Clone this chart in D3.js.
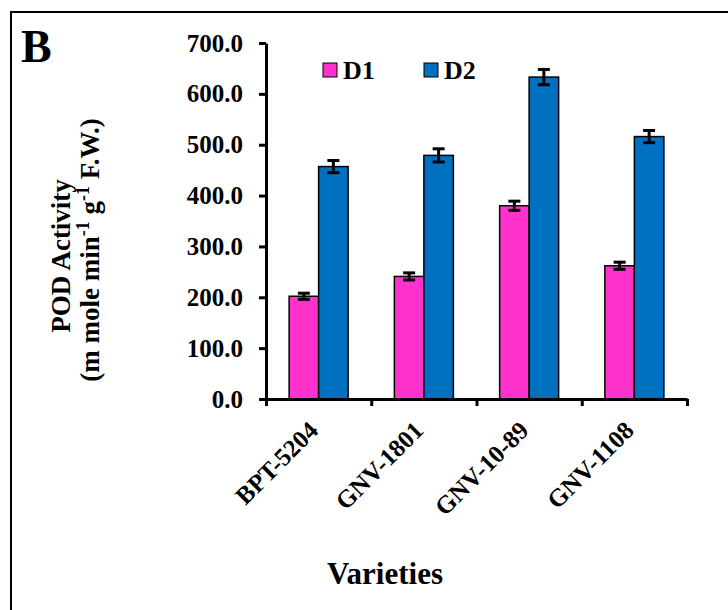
<!DOCTYPE html>
<html>
<head>
<meta charset="utf-8">
<script src="https://cdn.jsdelivr.net/npm/d3@7/dist/d3.min.js"></script>
<style>
  body { margin: 0; background: #fff; }
  svg text { font-family: "Liberation Serif", "Times New Roman", serif; font-weight: bold; fill: #000; }
</style>
</head>
<body>
<div class="graphic"></div>
<script>
var varieties = ["BPT-5204", "GNV-1801", "GNV-10-89", "GNV-1108"];
var seriesNames = ["D1", "D2"];
var d1Values = [202, 241, 380, 262];
var d2Values = [457, 479, 633, 516];
var d1Errors = [6, 7, 9, 7];
var d2Errors = [12, 13, 15, 12];
var yTicks = [0, 100, 200, 300, 400, 500, 600, 700];
var colors = { D1: "#FF33CC", D2: "#0070C0" };

var width = 728, height = 610;
var margin = { left: 266, right: 41, top: 43, bottom: 211 };

var svg = d3.select(".graphic").append("svg")
  .attr("width", width)
  .attr("height", height);

// frame round the panel (cut off on right and bottom)
svg.append("rect")
  .attr("x", 11).attr("y", 12)
  .attr("width", 740).attr("height", 620)
  .attr("fill", "none")
  .attr("stroke", "#000")
  .attr("stroke-width", 2);

svg.append("text")
  .attr("x", 21).attr("y", 62)
  .style("font-size", "46px")
  .text("B");

var x0 = d3.scaleBand()
  .domain(varieties)
  .range([margin.left, width - margin.right]);

var barW = 29.5;
var x1 = d3.scaleBand()
  .domain(seriesNames)
  .range([x0.bandwidth() / 2 - barW, x0.bandwidth() / 2 + barW]);

var y = d3.scaleLinear()
  .domain([0, 700])
  .range([height - margin.bottom, margin.top]);

var rows = varieties.map(function(v, i) {
  return {
    variety: v,
    bars: [
      { key: "D1", value: d1Values[i], err: d1Errors[i] },
      { key: "D2", value: d2Values[i], err: d2Errors[i] }
    ]
  };
});

var groups = svg.append("g").selectAll("g")
  .data(rows)
  .join("g")
  .attr("transform", function(d) { return "translate(" + x0(d.variety) + ",0)"; });

groups.selectAll("rect")
  .data(function(d) { return d.bars; })
  .join("rect")
  .attr("x", function(d) { return x1(d.key); })
  .attr("y", function(d) { return y(d.value); })
  .attr("width", x1.bandwidth())
  .attr("height", function(d) { return y(0) - y(d.value); })
  .attr("fill", function(d) { return colors[d.key]; })
  .attr("stroke", "#000")
  .attr("stroke-width", 1.5);

// error bars
var errs = groups.selectAll("g.err")
  .data(function(d) { return d.bars; })
  .join("g")
  .attr("class", "err")
  .attr("stroke", "#000")
  .attr("stroke-width", 3);

errs.append("line")
  .attr("x1", function(d) { return x1(d.key) + x1.bandwidth() / 2; })
  .attr("x2", function(d) { return x1(d.key) + x1.bandwidth() / 2; })
  .attr("y1", function(d) { return y(d.value + d.err); })
  .attr("y2", function(d) { return y(d.value - d.err); });

errs.selectAll("line.cap")
  .data(function(d) { return [d.value + d.err, d.value - d.err].map(function(v) { return { key: d.key, v: v }; }); })
  .join("line")
  .attr("class", "cap")
  .attr("x1", function(d) { return x1(d.key) + x1.bandwidth() / 2 - 6; })
  .attr("x2", function(d) { return x1(d.key) + x1.bandwidth() / 2 + 6; })
  .attr("y1", function(d) { return y(d.v); })
  .attr("y2", function(d) { return y(d.v); });

// y axis
var yAxis = svg.append("g")
  .attr("transform", "translate(" + margin.left + ",0)")
  .call(d3.axisLeft(y).tickValues(yTicks).tickFormat(d3.format(".1f")).tickSize(7).tickSizeOuter(0).tickPadding(16));

// x axis: ticks on the band edges
var xEdges = d3.scaleLinear()
  .domain([0, varieties.length])
  .range(x0.range());

var xAxis = svg.append("g")
  .attr("transform", "translate(0," + y(0) + ")")
  .call(d3.axisBottom(xEdges).tickValues(d3.range(varieties.length + 1)).tickFormat("").tickSize(7).tickSizeOuter(0));

[yAxis, xAxis].forEach(function(a) {
  a.select(".domain").attr("stroke", "#000").attr("stroke-width", 3);
  a.selectAll(".tick line").attr("stroke", "#000").attr("stroke-width", 3);
});
yAxis.selectAll(".tick text")
  .style("font-size", "25px")
  .style("font-family", "Liberation Serif, serif")
  .style("font-weight", "bold");

// category labels
svg.append("g").selectAll("text")
  .data(varieties)
  .join("text")
  .attr("text-anchor", "end")
  .attr("transform", function(d) {
    return "translate(" + (x0(d) + x0.bandwidth() / 2 + 1) + "," + (y(0) + 33) + ") rotate(-45)";
  })
  .style("font-size", "25px")
  .text(function(d) { return d; });

// axis titles
svg.append("text")
  .attr("x", 385).attr("y", 584)
  .attr("text-anchor", "middle")
  .style("font-size", "31px")
  .text("Varieties");

svg.append("text")
  .attr("transform", "translate(70,256) rotate(-90)")
  .attr("text-anchor", "middle")
  .style("font-size", "27px")
  .text("POD Activity");

var yt2 = svg.append("text")
  .attr("transform", "translate(99,250) rotate(-90)")
  .attr("text-anchor", "middle")
  .style("font-size", "27px");
yt2.append("tspan").text("(m mole min");
yt2.append("tspan").attr("dy", -10).style("font-size", "18px").text("-1");
yt2.append("tspan").attr("dy", 10).text(" g");
yt2.append("tspan").attr("dy", -10).style("font-size", "18px").text("-1");
yt2.append("tspan").attr("dy", 10).text(" F.W.)");

// legend
var legend = svg.append("g").selectAll("g")
  .data(seriesNames)
  .join("g")
  .attr("transform", function(d, i) { return "translate(" + (323 + i * 101) + ",63)"; });

legend.append("rect")
  .attr("width", 14).attr("height", 14)
  .attr("fill", function(d) { return colors[d]; })
  .attr("stroke", "#000")
  .attr("stroke-width", 1);

legend.append("text")
  .attr("x", 20).attr("y", 16)
  .style("font-size", "26px")
  .text(function(d) { return d; });
</script>
</body>
</html>
